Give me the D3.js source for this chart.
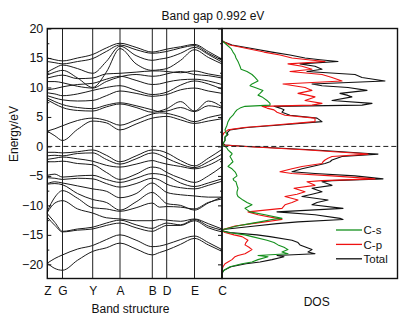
<!DOCTYPE html>
<html>
<head>
<meta charset="utf-8">
<script src="https://cdn.jsdelivr.net/npm/d3@7"></script>
<style>
  body { margin: 0; background: #fff; }
  text { font-family: Arial, "Liberation Sans", sans-serif; fill: #111; }
</style>
</head>
<body>
<svg class="band-plot" width="411" height="324"></svg>
<script>
/**********************
 Data
**********************/
// high symmetry points along the k-path (path distance)
var kLabels = ['Z', 'G', 'Y', 'A', 'B', 'D', 'E', 'C'];
var kPoints = [0, 15.2, 45.4, 72.7, 105, 119.4, 147.2, 174.7];

// k samples for every band: Z, mid, G, mid, Y, mid, A, mid, B, mid, D, mid, E, mid, C
var kSamples = [0, 7.6, 15.2, 30.3, 45.4, 59, 72.7, 88.8, 105, 112.2, 119.4, 133.3, 147.2, 161, 174.7];

var conductionBands = [
  [2.6, 1.8, 1.0, 2.9, 4.3, 4.0, 2.8, 3.8, 4.8, 5.0, 5.1, 4.5, 3.9, 4.3, 4.7],
  [2.6, 3.0, 3.5, 4.4, 4.8, 4.4, 3.6, 4.5, 5.5, 5.7, 5.6, 5.0, 4.2, 4.9, 5.4],
  [7.9, 7.2, 6.6, 6.1, 6.0, 6.7, 7.2, 6.6, 5.8, 6.0, 6.4, 7.6, 6.0, 7.7, 6.7],
  [8.2, 7.6, 7.1, 6.6, 6.4, 7.0, 7.4, 6.9, 6.2, 5.9, 6.0, 6.6, 5.9, 6.9, 6.5],
  [8.6, 8.2, 7.9, 7.7, 7.8, 8.6, 9.4, 9.0, 8.5, 8.6, 8.8, 9.6, 9.9, 9.4, 9.0],
  [9.1, 8.9, 8.6, 8.9, 9.5, 10.0, 10.3, 9.5, 8.8, 8.9, 9.2, 10.4, 11.1, 10.6, 9.7],
  [9.6, 9.8, 10.1, 10.5, 10.7, 11.4, 11.9, 11.2, 10.5, 10.6, 10.9, 11.3, 11.4, 11.1, 10.5],
  [11.0, 11.0, 10.8, 10.2, 9.9, 11.0, 11.8, 12.2, 11.9, 12.0, 12.3, 12.7, 12.2, 12.0, 11.6],
  [11.6, 11.9, 12.1, 11.5, 11.6, 12.3, 12.4, 12.6, 12.8, 12.8, 12.7, 12.5, 12.8, 12.3, 11.9],
  [12.1, 12.6, 12.9, 11.6, 10.0, 12.6, 16.6, 14.0, 12.9, 13.0, 13.2, 14.6, 16.4, 15.1, 14.0],
  [12.6, 13.3, 13.8, 13.2, 12.4, 14.4, 17.0, 15.4, 14.6, 14.8, 15.0, 15.8, 16.8, 15.6, 14.3],
  [14.4, 14.2, 14.0, 14.4, 14.9, 16.1, 17.2, 16.4, 15.8, 15.9, 16.1, 16.7, 17.1, 15.8, 14.6],
  [15.0, 14.7, 14.5, 15.0, 15.6, 16.7, 17.5, 16.8, 16.0, 16.2, 16.5, 16.9, 17.3, 16.1, 14.8]
];

var valenceBands = [
  [-1.0, -1.0, -1.1, -0.9, -0.6, -1.5, -2.6, -1.6, -0.6, -0.7, -1.1, -2.4, -3.3, -2.0, -0.5],
  [-1.6, -1.5, -1.6, -1.2, -1.1, -2.2, -3.0, -2.1, -1.1, -1.4, -2.0, -3.0, -3.6, -2.6, -1.3],
  [-2.2, -2.0, -1.8, -2.1, -2.5, -3.2, -3.5, -3.0, -2.4, -2.7, -3.0, -3.4, -3.8, -3.2, -2.0],
  [-2.6, -2.6, -2.5, -2.9, -3.1, -4.4, -5.6, -4.7, -3.5, -3.7, -4.4, -5.4, -6.1, -5.0, -3.4],
  [-4.9, -4.7, -5.2, -5.0, -4.9, -5.6, -6.1, -5.4, -4.6, -4.7, -5.0, -6.2, -6.8, -6.2, -5.5],
  [-5.3, -5.4, -5.6, -5.4, -5.5, -6.3, -6.9, -6.3, -5.4, -5.7, -6.4, -7.0, -7.2, -6.6, -5.9],
  [-6.3, -6.0, -6.2, -6.7, -7.2, -7.6, -8.7, -8.0, -6.2, -6.9, -7.8, -8.2, -8.4, -8.6, -8.6],
  [-6.4, -6.3, -6.5, -8.0, -9.0, -9.5, -10.8, -9.4, -7.8, -8.6, -9.7, -10.0, -10.8, -9.6, -8.6],
  [-11.0, -8.6, -7.5, -8.8, -10.4, -10.6, -11.0, -10.4, -9.6, -10.3, -10.2, -10.3, -10.6, -9.5, -8.9],
  [-11.2, -9.6, -9.2, -10.6, -11.3, -12.1, -12.3, -12.6, -12.6, -12.4, -12.5, -12.7, -12.3, -13.1, -14.0],
  [-11.4, -12.9, -14.4, -14.0, -13.7, -13.0, -12.5, -13.3, -13.9, -13.4, -13.0, -13.3, -12.4, -13.5, -14.2],
  [-12.0, -13.4, -14.5, -14.2, -14.0, -13.4, -13.0, -13.8, -14.4, -13.9, -13.4, -13.4, -12.6, -13.8, -14.5],
  [-19.8, -19.0, -18.4, -17.4, -16.8, -15.8, -15.0, -15.9, -17.0, -16.9, -16.6, -15.8, -15.2, -16.3, -17.5],
  [-19.8, -20.7, -21.0, -19.3, -17.8, -17.2, -16.4, -17.4, -18.4, -18.0, -17.6, -16.6, -15.6, -16.7, -17.8]
];

// density of states, read along the energy axis (eV)
var dosEnergy = [18.0, 17.8, 17.2, 16.6, 16.0, 15.5, 15.0, 14.7, 14.4, 14.0,
  13.6, 13.1, 12.7, 12.2, 11.7, 11.1, 10.6, 10.3, 10.0, 9.5,
  9.0, 8.7, 8.4, 7.8, 7.3, 7.0, 6.8, 6.5, 6.2, 5.8,
  5.3, 4.8, 4.2, 3.6, 3.2, 2.8, 2.3, 2.0, 1.6, 1.0,
  0.5, 0.24, 0.0, -0.3, -0.6, -0.9, -1.2, -1.3, -1.7, -2.0,
  -2.3, -2.6, -2.9, -3.4, -3.8, -4.3, -4.6, -5.0, -5.5, -5.8,
  -6.0, -6.6, -7.1, -7.7, -8.1, -8.5, -9.1, -9.5, -9.9, -10.5,
  -11.1, -11.6, -12.2, -12.4, -12.8, -13.1, -13.5, -14.1, -14.3, -14.6,
  -15.0, -15.3, -15.9, -16.3, -16.7, -17.1, -17.5, -17.9, -18.2, -18.5,
  -18.7, -19.2, -19.6, -19.9, -20.4, -21.0, -21.5, -22.4];

var dosTotal = [0, 1, 10, 30, 50, 68, 83, 98, 116, 78,
  93, 100, 85, 133, 140, 163, 90, 100, 126, 145,
  118, 125, 130, 110, 150, 140, 52, 58, 62, 60,
  68, 95, 100, 55, 25, 8, 5, 6, 3, 3,
  1, 3, 26, 60, 93, 120, 146, 156, 120, 115,
  110, 108, 103, 90, 80, 70, 93, 133, 161, 110,
  100, 110, 90, 100, 90, 80, 106, 95, 90, 121,
  55, 93, 118, 121, 76, 55, 33, 1, 0, 8,
  35, 48, 70, 76, 78, 84, 90, 86, 93, 55,
  62, 50, 38, 24, 9, 2, 0, 0];

var dosCp = [0, 1, 8, 25, 42, 58, 70, 86, 103, 66,
  80, 90, 68, 100, 110, 120, 61, 72, 83, 90,
  76, 85, 93, 83, 100, 90, 40, 45, 52, 55,
  63, 93, 93, 50, 22, 6, 2, 1, 0, 0,
  0, 2, 23, 55, 86, 112, 140, 146, 110, 106,
  103, 101, 100, 80, 70, 58, 70, 110, 153, 100,
  85, 93, 72, 83, 75, 63, 76, 70, 63, 60,
  26, 36, 55, 60, 43, 30, 13, 1, 0, 3,
  12, 20, 26, 24, 23, 27, 30, 26, 23, 16,
  13, 10, 6, 3, 1, 0, 0, 0];

var dosCs = [0, 1, 5, 9, 11, 13, 14, 15, 16, 17,
  18, 19, 25, 30, 33, 36, 30, 28, 33, 41,
  38, 36, 40, 45, 48, 48, 23, 18, 15, 13,
  11, 8, 6, 5, 4, 3, 4, 5, 3, 3,
  1, 1, 3, 5, 6, 8, 10, 10, 8, 9,
  10, 11, 9, 6, 10, 13, 14, 15, 11, 12,
  14, 15, 16, 15, 15, 16, 21, 25, 30, 23,
  28, 43, 60, 50, 38, 28, 15, 1, 0, 6,
  23, 30, 45, 52, 56, 62, 66, 60, 66, 36,
  46, 36, 30, 20, 8, 2, 0, 0];

var yMajor = [-20, -15, -10, -5, 0, 5, 10, 15, 20];
var yMinor = [-17.5, -12.5, -7.5, -2.5, 2.5, 7.5, 12.5, 17.5];

var legendNames = ['C-s', 'C-p', 'Total'];
var legendColors = ['#13901c', '#ee1111', '#111111'];


/**********************
 Layout and scales
**********************/
var svg = d3.select('svg.band-plot');

var plotTop = 28.5, plotBottom = 278.5;
var bandLeft = 47.3, bandRight = 222, dosRight = 397.5;

var yScale = d3.scaleLinear().domain([-22.4, 20]).range([plotBottom, plotTop]);
var xBand = d3.scaleLinear().domain([0, 174.7]).range([bandLeft, bandRight]);
var xDos = d3.scaleLinear().domain([0, 175.5]).range([bandRight, dosRight]);


/**********************
 Band structure panel
**********************/
// vertical lines at the high symmetry points
svg.append('g')
  .selectAll('line')
  .data(kPoints.slice(1, -1))
  .enter().append('line')
  .attr('x1', function(d) { return xBand(d); })
  .attr('x2', function(d) { return xBand(d); })
  .attr('y1', plotTop).attr('y2', plotBottom)
  .attr('stroke', '#222').attr('stroke-width', 1);

var bandLine = d3.line()
  .x(function(d, i) { return xBand(kSamples[i]); })
  .y(function(d) { return yScale(d); })
  .curve(d3.curveMonotoneX);

svg.append('g')
  .selectAll('path')
  .data(conductionBands.concat(valenceBands))
  .enter().append('path')
  .attr('d', bandLine)
  .attr('fill', 'none')
  .attr('stroke', '#1a1a1a')
  .attr('stroke-width', 1);

// left axis, ticks point inward
var yAxisG = svg.append('g')
  .attr('transform', 'translate(' + bandLeft + ',0)')
  .call(d3.axisLeft(yScale).tickValues(yMajor).tickSizeInner(-4).tickSizeOuter(0).tickPadding(4));
svg.append('g')
  .attr('transform', 'translate(' + bandLeft + ',0)')
  .call(d3.axisLeft(yScale).tickValues(yMinor).tickSizeInner(-2).tickSizeOuter(0).tickFormat(''));
// mirror ticks on the right side of band panel
svg.append('g')
  .attr('transform', 'translate(' + bandRight + ',0)')
  .call(d3.axisRight(yScale).tickValues(yMajor).tickSizeInner(-4).tickSizeOuter(0).tickFormat(''));
svg.append('g')
  .attr('transform', 'translate(' + bandRight + ',0)')
  .call(d3.axisRight(yScale).tickValues(yMinor).tickSizeInner(-2).tickSizeOuter(0).tickFormat(''));

svg.selectAll('.domain').remove();
svg.selectAll('.tick line').attr('stroke', '#111');
yAxisG.selectAll('text')
  .style('font-size', '12.5px')
  .attr('fill', '#111');

// k-point labels
var xAxisG = svg.append('g')
  .attr('transform', 'translate(0,' + plotBottom + ')')
  .call(d3.axisBottom(xBand).tickValues(kPoints)
    .tickFormat(function(d, i) { return kLabels[i]; })
    .tickSize(0).tickPadding(8));
xAxisG.select('.domain').remove();
xAxisG.selectAll('text').style('font-size', '12px').attr('fill', '#111');


/**********************
 DOS panel
**********************/
var dosSeries = [dosTotal, dosCp, dosCs];
var dosColors = ['#111111', '#ee1111', '#13901c'];

dosSeries.forEach(function(series, j) {
  var dosLine = d3.line()
    .x(function(d) { return xDos(d); })
    .y(function(d, i) { return yScale(dosEnergy[i]); });
  svg.append('path')
    .datum(series)
    .attr('d', dosLine)
    .attr('fill', 'none')
    .attr('stroke', dosColors[j])
    .attr('stroke-width', 1.1)
    .attr('stroke-linejoin', 'round');
});

// Fermi level
svg.append('line')
  .attr('x1', bandLeft).attr('x2', dosRight)
  .attr('y1', yScale(0)).attr('y2', yScale(0))
  .attr('stroke', '#222')
  .attr('stroke-width', 1)
  .attr('stroke-dasharray', '5,3');

// frames
svg.append('rect')
  .attr('x', bandLeft).attr('y', plotTop)
  .attr('width', bandRight - bandLeft).attr('height', plotBottom - plotTop)
  .attr('fill', 'none').attr('stroke', '#111').attr('stroke-width', 1.4);
svg.append('rect')
  .attr('x', bandRight).attr('y', plotTop)
  .attr('width', dosRight - bandRight).attr('height', plotBottom - plotTop)
  .attr('fill', 'none').attr('stroke', '#111').attr('stroke-width', 1.4);

// legend
var legendG = svg.append('g')
  .selectAll('g')
  .data(legendNames)
  .enter().append('g')
  .attr('transform', function(d, i) { return 'translate(336,' + (230 + i * 14.4) + ')'; });
legendG.append('line')
  .attr('x1', 0).attr('x2', 26)
  .attr('stroke', function(d, i) { return legendColors[i]; })
  .attr('stroke-width', 1.3);
legendG.append('text')
  .attr('x', 27.5).attr('dy', '0.36em')
  .style('font-size', '11.5px')
  .text(function(d) { return d; });


/**********************
 Titles
**********************/
svg.append('text')
  .attr('x', 213).attr('y', 19.5)
  .attr('text-anchor', 'middle')
  .style('font-size', '12px')
  .text('Band gap 0.992 eV');

svg.append('text')
  .attr('transform', 'translate(18,134) rotate(-90)')
  .attr('text-anchor', 'middle')
  .style('font-size', '12px')
  .text('Energy/eV');

svg.append('text')
  .attr('x', 130.5).attr('y', 313)
  .attr('text-anchor', 'middle')
  .style('font-size', '12px')
  .text('Band structure');

svg.append('text')
  .attr('x', 316.7).attr('y', 306)
  .attr('text-anchor', 'middle')
  .style('font-size', '12px')
  .text('DOS');
</script>
</body>
</html>
